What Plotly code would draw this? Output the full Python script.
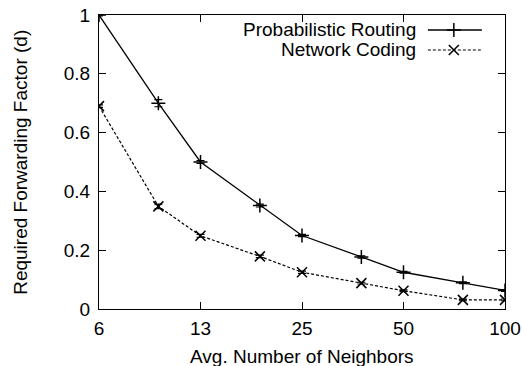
import plotly.graph_objects as go

neighbors = [6.25, 9.375, 12.5, 18.75, 25, 37.5, 50, 75, 100]
prob_routing = [1.0, 0.70, 0.50, 0.352, 0.25, 0.177, 0.125, 0.089, 0.063]
prob_err = [0.003, 0.012, 0.005, 0.005, 0.004, 0.004, 0.003, 0.003, 0.003]
net_coding = [0.69, 0.349, 0.249, 0.179, 0.125, 0.088, 0.062, 0.031, 0.031]
nc_err = [0.004, 0.008, 0.005, 0.004, 0.004, 0.003, 0.003, 0.003, 0.003]
tick_vals = [6.25, 12.5, 25, 50, 100]
tick_text = ["6", "13", "25", "50", "100"]
series_names = ["Probabilistic Routing", "Network Coding"]

FONT = "Liberation Sans, Arial, Helvetica, sans-serif"
FS = 19

fig = go.Figure()
fig.add_trace(go.Scatter(
    x=neighbors, y=prob_routing, mode="lines+markers",
    line=dict(color="black", width=1.3),
    marker=dict(symbol="cross-thin", size=10, line=dict(color="black", width=1.5)),
    error_y=dict(type="data", array=prob_err, color="black", thickness=1.2, width=4),
    showlegend=False))
fig.add_trace(go.Scatter(
    x=neighbors, y=net_coding, mode="lines+markers",
    line=dict(color="black", width=1.2, dash="3px,2px"),
    marker=dict(symbol="x-thin", size=10, line=dict(color="black", width=1.5)),
    error_y=dict(type="data", array=nc_err, color="black", thickness=1.2, width=4),
    showlegend=False))

# legend samples (gnuplot style: text left, sample right)
leg_y = [0.949, 0.881]
fig.add_trace(go.Scatter(x=[0.81, 0.943], y=[leg_y[0]] * 2, mode="lines", xaxis="x2", yaxis="y2",
                         line=dict(color="black", width=1.3), showlegend=False, hoverinfo="skip"))
fig.add_trace(go.Scatter(x=[0.874], y=[leg_y[0]], mode="markers", xaxis="x2", yaxis="y2",
                         marker=dict(symbol="cross-thin", size=10, line=dict(color="black", width=1.5)),
                         showlegend=False, hoverinfo="skip"))
fig.add_trace(go.Scatter(x=[0.81, 0.943], y=[leg_y[1]] * 2, mode="lines", xaxis="x2", yaxis="y2",
                         line=dict(color="black", width=1.2, dash="3px,2px"), showlegend=False, hoverinfo="skip"))
fig.add_trace(go.Scatter(x=[0.874], y=[leg_y[1]], mode="markers", xaxis="x2", yaxis="y2",
                         marker=dict(symbol="x-thin", size=10, line=dict(color="black", width=1.5)),
                         showlegend=False, hoverinfo="skip"))

annotations = []
for name, yy in zip(series_names, leg_y):
    annotations.append(dict(text=name, x=0.786, y=yy, xref="paper", yref="paper",
                            xanchor="right", yanchor="middle", showarrow=False,
                            font=dict(family=FONT, size=FS, color="black")))
annotations.append(dict(text="Avg. Number of Neighbors", x=0.5, y=-0.163, xref="paper", yref="paper",
                        xanchor="center", yanchor="middle", showarrow=False,
                        font=dict(family=FONT, size=FS, color="black")))
annotations.append(dict(text="Required Forwarding Factor (d)", x=-0.195, y=0.5, xref="paper", yref="paper",
                        xanchor="center", yanchor="middle", showarrow=False, textangle=-90,
                        font=dict(family=FONT, size=FS, color="black")))

axis_common = dict(showgrid=False, zeroline=False, showline=True, linecolor="black", linewidth=1.2,
                   mirror="allticks", ticks="inside", ticklen=7, tickcolor="black", tickwidth=1,
                   automargin=False,
                   tickfont=dict(family=FONT, size=FS, color="black"))

fig.update_layout(
    width=522, height=366,
    margin=dict(l=99, r=17, t=15, b=57, autoexpand=False),
    paper_bgcolor="white", plot_bgcolor="white",
    xaxis=dict(type="log", range=[0.7959, 2.0], tickvals=tick_vals, ticktext=tick_text,
               ticklabelstandoff=2, **axis_common),
    yaxis=dict(range=[0, 1], tickvals=[0, 0.2, 0.4, 0.6, 0.8, 1], ticktext=["0", "0.2", "0.4", "0.6", "0.8", "1"],
               ticklabelstandoff=4, **axis_common),
    xaxis2=dict(overlaying="x", range=[0, 1], visible=False),
    yaxis2=dict(overlaying="y", range=[0, 1], visible=False),
    annotations=annotations,
)

fig.write_html("out.html")
